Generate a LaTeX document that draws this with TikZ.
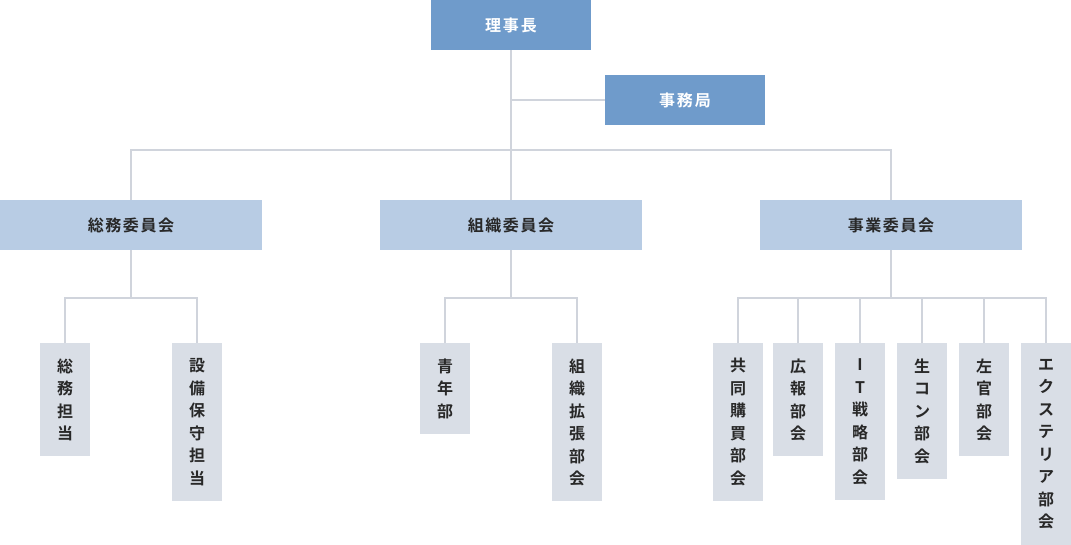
\documentclass[tikz,border=0pt]{standalone}
\usepackage{fontspec}
\newfontfamily\jp{Noto Sans CJK JP}[BoldFont={Noto Sans CJK JP Bold}]
\definecolor{topblue}{RGB}{111,155,203}
\definecolor{midblue}{RGB}{184,204,228}
\definecolor{leafgray}{RGB}{217,222,230}
\definecolor{linegray}{RGB}{208,212,220}
\definecolor{txt}{RGB}{40,40,40}
\begin{document}
\begin{tikzpicture}[x=1pt,y=-1pt,
  topbox/.style={fill=topblue, draw=none, minimum width=160pt, minimum height=50pt, inner sep=0pt, text=white,
    font=\jp\bfseries\fontsize{16}{18}\selectfont\addfontfeature{LetterSpace=11}},
  midbox/.style={fill=midblue, draw=none, minimum width=262pt, minimum height=50pt, inner sep=0pt, text=txt,
    font=\jp\bfseries\fontsize{16}{18}\selectfont\addfontfeature{LetterSpace=10}},
  leaf/.style={fill=leafgray, draw=none, minimum width=50pt, inner sep=0pt, text=txt, anchor=north,
    align=center, font=\jp\bfseries\fontsize{16}{22.5}\selectfont},
  conn/.style={draw=linegray, line width=2pt}]
\useasboundingbox (0,0) rectangle (1071,545);
% top
\node[topbox] (chair) at (511,25) {理事長};
\node[topbox] (office) at (685,100) {事務局};
% committees
\node[midbox] (c1) at (131,225) {総務委員会};
\node[midbox] (c2) at (511,225) {組織委員会};
\node[midbox] (c3) at (891,225) {事業委員会};
% leaves
\node[leaf, minimum height=113pt] (s1) at (65,343) {総\\務\\担\\当};
\node[leaf, minimum height=158pt] (s2) at (197,343) {設\\備\\保\\守\\担\\当};
\node[leaf, minimum height=91pt] (o1) at (445,343) {青\\年\\部};
\node[leaf, minimum height=158pt] (o2) at (577,343) {組\\織\\拡\\張\\部\\会};
\node[leaf, minimum height=158pt] (k1) at (738,343) {共\\同\\購\\買\\部\\会};
\node[leaf, minimum height=113pt] (k2) at (798,343) {広\\報\\部\\会};
\node[leaf, minimum height=157pt] (k3) at (860,343) {I\\T\\戦\\略\\部\\会};
\node[leaf, minimum height=136pt] (k4) at (922,343) {生\\コ\\ン\\部\\会};
\node[leaf, minimum height=113pt] (k5) at (984,343) {左\\官\\部\\会};
\node[leaf, minimum height=202pt] (k6) at (1046,343) {エ\\ク\\ス\\テ\\リ\\ア\\部\\会};
% bus points
\coordinate (b1) at (131,298.5);
\coordinate (b2) at (511,298.5);
\coordinate (b3) at (891,298.5);
% connectors
\draw[conn] (chair.south) -- (c2.north);
\draw[conn] (chair.south |- office.west) -- (office.west);
\draw[conn] (c1.north) -- ++(0,-50) -| (c3.north);
\draw[conn] (c1.south) -- (b1);
\draw[conn] (s1.north) |- (b1) -| (s2.north);
\draw[conn] (c2.south) -- (b2);
\draw[conn] (o1.north) |- (b2) -| (o2.north);
\draw[conn] (c3.south) -- (b3);
\draw[conn] (k1.north) |- (b3) -| (k6.north);
\draw[conn] (k2.north) -- (k2.north |- b3);
\draw[conn] (k3.north) -- (k3.north |- b3);
\draw[conn] (k4.north) -- (k4.north |- b3);
\draw[conn] (k5.north) -- (k5.north |- b3);
\end{tikzpicture}
\end{document}
